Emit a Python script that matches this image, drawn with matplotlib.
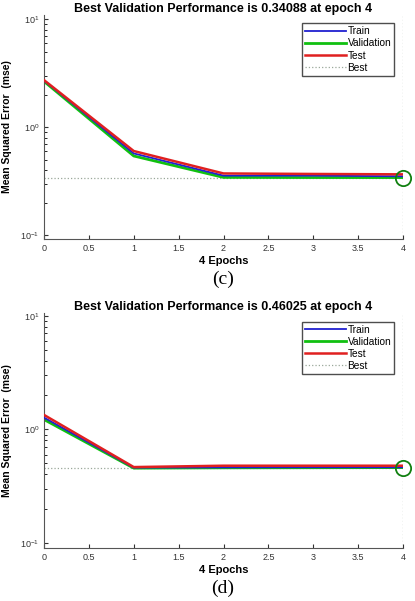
import matplotlib
matplotlib.use('Agg')
import matplotlib.pyplot as plt

epochs = [0, 1, 2, 3, 4]

# panel (c)
train_c = [2.70, 0.57, 0.355, 0.355, 0.35]
val_c = [2.65, 0.54, 0.342, 0.341, 0.34088]
test_c = [2.72, 0.60, 0.372, 0.368, 0.365]
best_c = 0.34088

# panel (d)
train_d = [1.27, 0.46, 0.462, 0.463, 0.463]
val_d = [1.22, 0.455, 0.458, 0.459, 0.46025]
test_d = [1.34, 0.465, 0.478, 0.478, 0.478]
best_d = 0.46025

xticks = [0, 0.5, 1, 1.5, 2, 2.5, 3, 3.5, 4]
xticklabels = ['0', '0.5', '1', '1.5', '2', '2.5', '3', '3.5', '4']

W, H = 415, 601
fig = plt.figure(figsize=(W / 100, H / 100), dpi=100)
plt.rcParams['font.family'] = ['Liberation Sans', 'DejaVu Sans']


def panel(top, bottom, ylim, train, val, test, best, letter):
    ax = fig.add_axes([44 / W, 1 - bottom / H, (403 - 44) / W, (bottom - top) / H])
    ax.semilogy(epochs, train, color='#2020d0', lw=1.3, label='Train', zorder=3)
    ax.semilogy(epochs, val, color='#10c010', lw=2.0, label='Validation', zorder=2)
    ax.semilogy(epochs, test, color='#e02020', lw=1.8, label='Test', zorder=4)
    ax.plot([0, 4], [best, best], ls=':', color='#9aa89a', lw=0.9, label='Best', zorder=1)
    ax.plot([4, 4], [ylim[0], ylim[1]], ls=':', color='#9aa89a', lw=0.9, zorder=1)
    ax.plot([4], [best], marker='o', ms=11, mfc='none', mec='#108010', mew=1.3,
            zorder=5, clip_on=False)
    ax.set_xlim(0, 4)
    ax.set_ylim(*ylim)
    ax.set_xticks(xticks)
    ax.set_xticklabels(xticklabels)
    ax.tick_params(direction='in', labelsize=6.5, length=3, colors='#333333')
    ax.tick_params(which='minor', direction='in', length=2)
    for s in ['top', 'right']:
        ax.spines[s].set_visible(False)
    for s in ['left', 'bottom']:
        ax.spines[s].set_color('#555555')
        ax.spines[s].set_linewidth(0.8)
    ax.set_title('Best Validation Performance is %.5f at epoch 4' % best,
                 fontsize=9, fontweight='bold', pad=2)
    ax.set_xlabel('4 Epochs', fontsize=8, fontweight='bold', labelpad=2)
    ax.set_ylabel('Mean Squared Error  (mse)', fontsize=7.5, fontweight='bold', labelpad=6)
    leg = ax.legend(loc='upper right', fontsize=7.3, frameon=True, fancybox=False,
                    handlelength=4.0, handletextpad=0.2, borderpad=0.3,
                    labelspacing=0.2, bbox_to_anchor=(0.99, 0.985))
    leg.get_frame().set_edgecolor('#222222')
    leg.get_frame().set_linewidth(1.0)
    fig.text(223 / W, 1 - (bottom + 40) / H, letter, ha='center', va='center',
             fontsize=14, family='Liberation Serif')
    return ax


panel(15, 239, (0.092, 10.9), train_c, val_c, test_c, best_c, '(c)')
panel(313, 548, (0.09, 10.6), train_d, val_d, test_d, best_d, '(d)')

fig.savefig('out.png', dpi=100)
